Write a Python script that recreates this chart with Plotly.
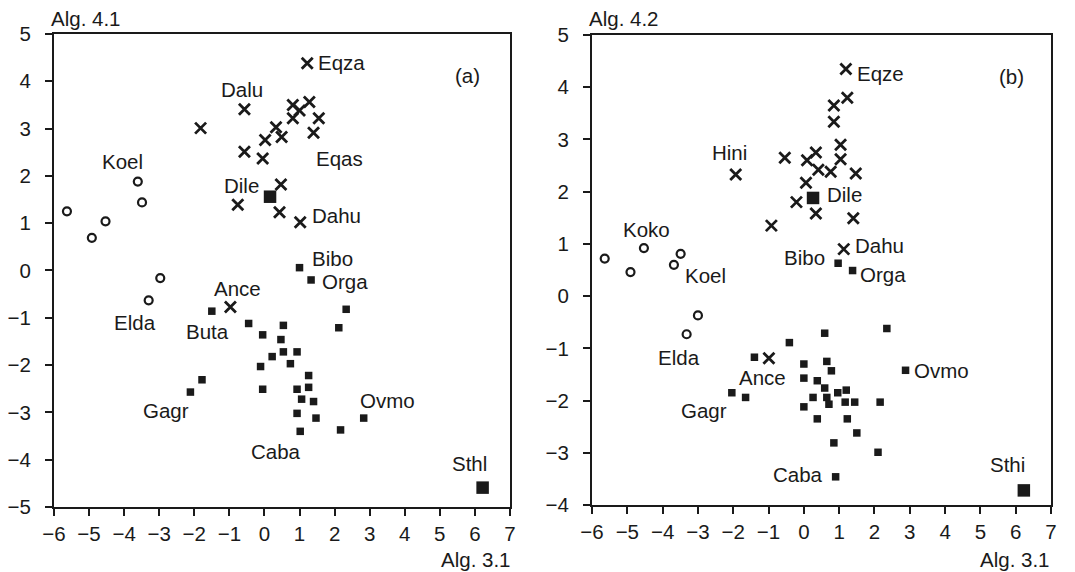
import plotly.graph_objects as go

# ---------------- Panel (a) : Alg. 4.1 vs Alg. 3.1 ----------------
a_circ_x = [-5.63, -4.92, -4.53, -3.61, -3.49, -2.97, -3.30]
a_circ_y = [1.25, 0.69, 1.04, 1.88, 1.44, -0.16, -0.63]

a_cross_x = [1.22, -0.57, -1.82, -0.57, -0.05, 0.02, 0.33, 0.49, 0.81, 0.81, 1.00, 1.28,
             1.55, 1.40, 0.47, -0.76, 0.43, 1.02, -0.97]
a_cross_y = [4.38, 3.41, 3.01, 2.51, 2.37, 2.76, 3.03, 2.82, 3.50, 3.22, 3.38, 3.56,
             3.22, 2.91, 1.82, 1.39, 1.23, 1.02, -0.77]

a_sq_x = [1.00, 1.33, -1.50, -0.45, 0.54, -0.05, 0.47, 0.54, 0.93, 0.22, 0.74, -0.11,
          2.33, 2.12, -1.78, -2.11, -0.05, 0.93, 1.26, 1.26, 1.06, 1.40, 0.93, 1.47,
          1.02, 2.17, 2.83]
a_sq_y = [0.06, -0.20, -0.86, -1.12, -1.16, -1.36, -1.46, -1.72, -1.72, -1.82, -1.97,
          -2.03, -0.82, -1.21, -2.31, -2.57, -2.51, -2.51, -2.22, -2.47, -2.72, -2.77,
          -3.02, -3.12, -3.40, -3.37, -3.12]

a_big_x = [0.16, 6.22]
a_big_y = [1.56, -4.59]

a_lab_text = ["Eqza", "(a)", "Dalu", "Koel", "Eqas", "Dile", "Dahu", "Bibo", "Orga",
              "Ance", "Elda", "Buta", "Gagr", "Ovmo", "Caba", "Sthl"]
a_lab_x = [2.19, 5.79, -0.63, -4.05, 2.14, -0.66, 2.06, 1.95, 2.31,
           -0.76, -3.70, -1.63, -2.80, 3.51, 0.33, 5.84]
a_lab_y = [4.40, 4.12, 3.83, 2.30, 2.37, 1.80, 1.16, 0.25, -0.24,
           -0.38, -1.10, -1.28, -2.97, -2.74, -3.83, -4.09]

# ---------------- Panel (b) : Alg. 4.2 vs Alg. 3.1 ----------------
b_circ_x = [-5.64, -4.91, -4.53, -3.68, -3.49, -3.00, -3.32]
b_circ_y = [0.72, 0.46, 0.92, 0.60, 0.81, -0.37, -0.73]

b_cross_x = [1.19, 1.23, 0.85, 0.85, 1.04, 1.04, 1.47, 0.76, 0.41, 0.34, 0.09, -0.54,
             0.06, -0.21, 0.34, 1.40, -0.92, -1.93, 1.13, -0.99]
b_cross_y = [4.35, 3.80, 3.65, 3.34, 2.90, 2.62, 2.35, 2.38, 2.42, 2.75, 2.60, 2.65,
             2.17, 1.80, 1.58, 1.49, 1.35, 2.33, 0.90, -1.19]

b_sq_x = [0.97, 1.38, 2.35, 0.59, -0.41, -1.40, 0.00, 0.65, 0.78, 0.00, 0.38, 0.59,
          2.88, 1.20, 0.96, -2.04, -1.65, 0.26, 0.65, 0.71, 1.17, 1.44, 2.16, 0.00,
          0.38, 1.23, 1.50, 0.85, 2.10, 0.90]
b_sq_y = [0.63, 0.49, -0.62, -0.71, -0.89, -1.17, -1.30, -1.25, -1.43, -1.57, -1.62,
          -1.76, -1.42, -1.80, -1.85, -1.85, -1.94, -1.94, -1.94, -2.07, -2.03, -2.03,
          -2.03, -2.12, -2.35, -2.35, -2.62, -2.81, -2.99, -3.46]

b_big_x = [0.26, 6.23]
b_big_y = [1.88, -3.72]

b_lab_text = ["Eqze", "(b)", "Hini", "Dile", "Koko", "Dahu", "Bibo", "Koel", "Orga",
              "Elda", "Ance", "Ovmo", "Gagr", "Caba", "Sthi"]
b_lab_x = [2.17, 5.88, -2.12, 1.14, -4.46, 2.15, 0.01, -2.79, 2.25,
           -3.53, -1.18, 3.91, -2.84, -0.17, 5.77]
b_lab_y = [4.27, 4.21, 2.75, 1.94, 1.28, 0.97, 0.73, 0.39, 0.42,
           -1.18, -1.55, -1.42, -2.19, -3.42, -3.22]

x_ticks = list(range(-6, 8))
a_y_ticks = list(range(-5, 6))
b_y_ticks = list(range(-4, 6))

FONT = "Liberation Sans, Arial, sans-serif"
INK = "#1a1a1a"
FS = 20.5

fig = go.Figure()


def add_panel(xa, ya, cx, cy, xx, xy, sx, sy, bx, by):
    fig.add_trace(go.Scatter(x=cx, y=cy, mode="markers", xaxis=xa, yaxis=ya,
                             marker=dict(symbol="circle-open", size=8, color=INK,
                                         line=dict(width=2.2, color=INK))))
    fig.add_trace(go.Scatter(x=xx, y=xy, mode="markers", xaxis=xa, yaxis=ya,
                             marker=dict(symbol="x-thin", size=11, color=INK,
                                         line=dict(width=2.8, color=INK))))
    fig.add_trace(go.Scatter(x=sx, y=sy, mode="markers", xaxis=xa, yaxis=ya,
                             marker=dict(symbol="square", size=7.5, color=INK,
                                         line=dict(width=0))))
    fig.add_trace(go.Scatter(x=bx, y=by, mode="markers", xaxis=xa, yaxis=ya,
                             marker=dict(symbol="square", size=12.5, color=INK,
                                         line=dict(width=0))))


add_panel("x", "y", a_circ_x, a_circ_y, a_cross_x, a_cross_y, a_sq_x, a_sq_y, a_big_x, a_big_y)
add_panel("x2", "y2", b_circ_x, b_circ_y, b_cross_x, b_cross_y, b_sq_x, b_sq_y, b_big_x, b_big_y)

annotations = []
for t, x, y in zip(a_lab_text, a_lab_x, a_lab_y):
    annotations.append(dict(text=t, x=x, y=y, xref="x", yref="y", showarrow=False,
                            font=dict(family=FONT, size=FS, color=INK)))
for t, x, y in zip(b_lab_text, b_lab_x, b_lab_y):
    annotations.append(dict(text=t, x=x, y=y, xref="x2", yref="y2", showarrow=False,
                            font=dict(family=FONT, size=FS, color=INK)))

axis_titles = [
    ("Alg. 4.1", 0.0456, 0.9685, "left"),
    ("Alg. 4.2", 0.546, 0.9685, "left"),
    ("Alg. 3.1", 0.4772, 0.0227, "right"),
    ("Alg. 3.1", 0.9786, 0.0227, "right"),
]
for t, x, y, anc in axis_titles:
    annotations.append(dict(text=t, x=x, y=y, xref="paper", yref="paper", showarrow=False,
                            xanchor=anc, yanchor="middle",
                            font=dict(family=FONT, size=FS, color=INK)))

common = dict(showgrid=False, zeroline=False, showline=True, linecolor=INK, linewidth=2,
              mirror=True, ticks="outside", ticklen=7, tickwidth=2, tickcolor=INK,
              automargin=False,
              tickfont=dict(family=FONT, size=FS, color=INK))

fig.update_layout(
    width=1075, height=572,
    margin=dict(l=0, r=0, t=0, b=0),
    paper_bgcolor="white", plot_bgcolor="white",
    showlegend=False,
    xaxis=dict(domain=[0.0502, 0.4744], range=[-6, 7], tickvals=x_ticks, anchor="y",
               ticklabelstandoff=0, **common),
    yaxis=dict(domain=[0.1136, 0.9406], range=[-5, 5], tickvals=a_y_ticks, anchor="x",
               ticklabelstandoff=10, **common),
    xaxis2=dict(domain=[0.5507, 0.9777], range=[-6, 7], tickvals=x_ticks, anchor="y2",
                ticklabelstandoff=0, **common),
    yaxis2=dict(domain=[0.1171, 0.9388], range=[-4, 5], tickvals=b_y_ticks, anchor="x2",
                ticklabelstandoff=10, **common),
    annotations=annotations,
)

fig.write_html("out.html")
